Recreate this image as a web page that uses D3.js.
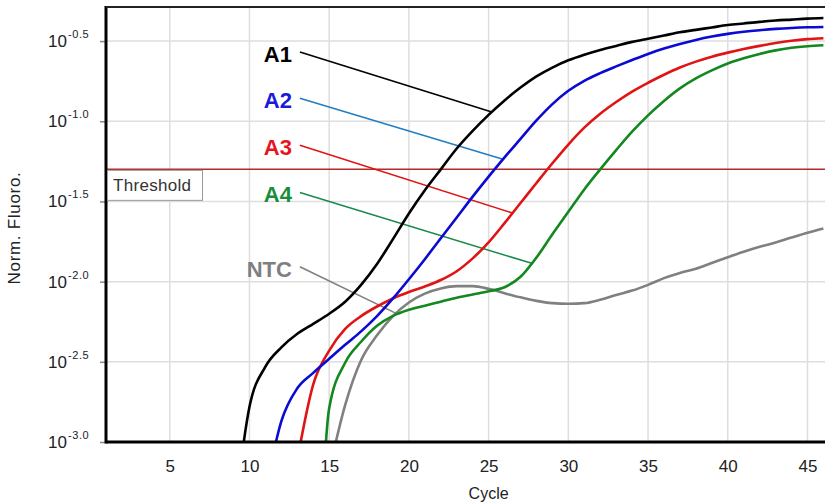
<!DOCTYPE html>
<html>
<head>
<meta charset="utf-8">
<script src="https://cdn.jsdelivr.net/npm/d3@7"></script>
<style>
  body { margin: 0; background: #fff; }
  svg { display: block; font-family: "Liberation Sans", Arial, sans-serif; }
</style>
</head>
<body>
<div id="chart"></div>
<script>
// ---- data (y values are log10 of normalized fluorescence) ----
const xTicks = [5, 10, 15, 20, 25, 30, 35, 40, 45];
const yTicks = [-3.0, -2.5, -2.0, -1.5, -1.0, -0.5];
const yTickLabels = ["-3.0", "-2.5", "-2.0", "-1.5", "-1.0", "-0.5"];

const seriesNames = ["A1", "A2", "A3", "A4", "NTC"];
const seriesStart = [9, 11, 13, 14, 15];   // first cycle of each series
const A1 = [-3.50, -2.78, -2.53, -2.41, -2.325, -2.263, -2.2, -2.125, -2.02, -1.89, -1.735, -1.575, -1.43,
            -1.30, -1.17, -1.06, -0.96, -0.87, -0.79, -0.72, -0.665, -0.62, -0.585, -0.555, -0.53, -0.505,
            -0.485, -0.465, -0.445, -0.43, -0.415, -0.40, -0.39, -0.38, -0.372, -0.366, -0.36, -0.356];
const A2 = [-3.31, -2.87, -2.665, -2.569, -2.481, -2.394, -2.31, -2.215, -2.105, -1.985, -1.86, -1.73, -1.60,
            -1.47, -1.345, -1.225, -1.11, -0.995, -0.893, -0.81, -0.748, -0.70, -0.658, -0.618, -0.58, -0.547,
            -0.518, -0.493, -0.472, -0.455, -0.442, -0.432, -0.424, -0.418, -0.414, -0.412];
const A3 = [-3.11, -2.64, -2.43, -2.295, -2.215, -2.155, -2.105, -2.065, -2.03, -1.99, -1.935, -1.855, -1.755,
            -1.635, -1.51, -1.385, -1.262, -1.145, -1.04, -0.953, -0.88, -0.815, -0.76, -0.71, -0.665, -0.628,
            -0.597, -0.572, -0.55, -0.53, -0.512, -0.498, -0.488, -0.482];
const A4 = [-5.00, -2.79, -2.506, -2.375, -2.275, -2.213, -2.175, -2.15, -2.125, -2.10, -2.08, -2.06, -2.035,
            -1.97, -1.85, -1.705, -1.565, -1.425, -1.30, -1.18, -1.065, -0.963, -0.873, -0.795, -0.733, -0.683,
            -0.64, -0.607, -0.58, -0.558, -0.542, -0.532, -0.526];
const NTC = [-3.18, -2.77, -2.49, -2.335, -2.215, -2.13, -2.075, -2.043, -2.028, -2.028, -2.045, -2.072, -2.098,
             -2.12, -2.134, -2.138, -2.134, -2.113, -2.083, -2.056, -2.02, -1.978, -1.946, -1.92, -1.884, -1.848,
             -1.814, -1.783, -1.756, -1.725, -1.695, -1.668];
const seriesValues = [A1, A2, A3, A4, NTC];
const threshold = -1.3;

// where each leader line touches its curve (cycle)
const leaderEnd = [25.2, 25.9, 26.5, 27.7, 19.2];

// ---- styles / layout ----
const curveColors = ["#000000", "#0a0ad2", "#e01414", "#12881e", "#808080"];
const labelColors = ["#000000", "#1a1ad8", "#e8141e", "#1a8c3c", "#7f7f7f"];
const leaderColors = ["#000000", "#1f7fc0", "#e01414", "#1a8a4a", "#808080"];
const labelCycle = 12.66;
const labelY = [-0.631, -0.919, -1.2125, -1.506, -1.969];

const W = 825, H = 503;
const margin = {top: 7, right: 0, bottom: 61, left: 106};

const svg = d3.select("#chart").append("svg")
  .attr("width", W).attr("height", H);

const x = d3.scaleLinear().domain([1, 46.1]).range([margin.left, W - margin.right]);
const y = d3.scaleLinear().domain([-3.0, -0.2875]).range([H - margin.bottom, margin.top]);

const x0 = margin.left, x1 = W - margin.right, y0 = H - margin.bottom, y1 = margin.top;

svg.append("defs").append("clipPath").attr("id", "plot")
  .append("rect").attr("x", x0).attr("y", y1).attr("width", x1 - x0).attr("height", y0 - y1);

// grid
svg.append("g").selectAll("line").data(xTicks).join("line")
  .attr("x1", d => x(d)).attr("x2", d => x(d)).attr("y1", y1).attr("y2", y0)
  .attr("stroke", "#dedede").attr("stroke-width", 1.5);
svg.append("g").selectAll("line").data(yTicks.slice(1)).join("line")
  .attr("x1", x0).attr("x2", x1).attr("y1", d => y(d)).attr("y2", d => y(d))
  .attr("stroke", "#dedede").attr("stroke-width", 1.5);

// x axis labels
const xAxis = svg.append("g").attr("transform", `translate(0,${y0})`)
  .call(d3.axisBottom(x).tickValues(xTicks).tickSize(0).tickPadding(18));
xAxis.select(".domain").remove();
xAxis.selectAll("text").attr("font-size", 17).attr("fill", "#222")
  .attr("font-family", "Liberation Sans, Arial, sans-serif");

// y axis ticks
const yAxis = svg.append("g").attr("transform", `translate(${x0},0)`)
  .call(d3.axisLeft(y).tickValues(yTicks).tickSize(6).tickFormat(""));
yAxis.select(".domain").remove();
yAxis.selectAll("line").attr("stroke", "#888").attr("stroke-width", 1.5);

const yl = svg.append("g").selectAll("text").data(yTicks).join("text")
  .attr("x", 48).attr("y", d => y(d) + 6)
  .attr("font-size", 17).attr("fill", "#222");
yl.append("tspan").text("10");
yl.append("tspan").attr("dx", 1).attr("dy", -9).attr("font-size", 11)
  .attr("letter-spacing", 0.6)
  .text((d, i) => yTickLabels[i]);

// axis titles
svg.append("text").attr("transform", `translate(20,228) rotate(-90)`)
  .attr("text-anchor", "middle").attr("font-size", 17).attr("letter-spacing", 0.7)
  .attr("fill", "#222")
  .text("Norm. Fluoro.");
svg.append("text").attr("x", x(25)).attr("y", 499)
  .attr("text-anchor", "middle").attr("font-size", 16).attr("fill", "#222")
  .text("Cycle");

// threshold line
svg.append("line")
  .attr("x1", x0).attr("x2", x1).attr("y1", y(threshold)).attr("y2", y(threshold))
  .attr("stroke", "#b22a2a").attr("stroke-width", 1.5);

// series points
const seriesPts = seriesValues.map((vals, i) =>
  vals.map((v, j) => ({c: seriesStart[i] + j, v: v})));

function valueAt(pts, c) {
  for (let k = 0; k < pts.length - 1; k++) {
    if (c >= pts[k].c && c <= pts[k + 1].c) {
      const t = (c - pts[k].c) / (pts[k + 1].c - pts[k].c);
      return pts[k].v + t * (pts[k + 1].v - pts[k].v);
    }
  }
  return pts[pts.length - 1].v;
}

// leader lines
svg.append("g").selectAll("line").data(seriesNames).join("line")
  .attr("x1", x(labelCycle) + 8)
  .attr("y1", (d, i) => y(labelY[i]) - 10)
  .attr("x2", (d, i) => x(leaderEnd[i]))
  .attr("y2", (d, i) => y(valueAt(seriesPts[i], leaderEnd[i])))
  .attr("stroke", (d, i) => leaderColors[i]).attr("stroke-width", 1.6);

// curves (NTC drawn first, A1 on top)
const line = d3.line().x(d => x(d.c)).y(d => y(d.v)).curve(d3.curveMonotoneX);
svg.append("g").attr("clip-path", "url(#plot)")
  .selectAll("path").data(seriesPts.map((p, i) => ({p, i})).reverse()).join("path")
  .attr("d", d => line(d.p))
  .attr("fill", "none")
  .attr("stroke", d => curveColors[d.i])
  .attr("stroke-width", 2.6)
  .attr("stroke-linejoin", "round");

// series labels
svg.append("g").selectAll("text").data(seriesNames).join("text")
  .attr("x", x(labelCycle)).attr("y", (d, i) => y(labelY[i]))
  .attr("text-anchor", "end").attr("font-size", 22).attr("font-weight", "bold")
  .attr("fill", (d, i) => labelColors[i])
  .text(d => d);

// frame
svg.append("line").attr("x1", x0).attr("x2", x0).attr("y1", y1 - 1).attr("y2", y0 + 1.5)
  .attr("stroke", "#000").attr("stroke-width", 3);
svg.append("line").attr("x1", x0).attr("x2", x1).attr("y1", y0).attr("y2", y0)
  .attr("stroke", "#000").attr("stroke-width", 3);
svg.append("line").attr("x1", x0).attr("x2", x1).attr("y1", y1).attr("y2", y1)
  .attr("stroke", "#222").attr("stroke-width", 2);

// threshold tag
const ty = y(threshold);
svg.append("rect").attr("x", x0 + 1.5).attr("y", ty + 1).attr("width", 95).attr("height", 30)
  .attr("fill", "#fff").attr("stroke", "#9a9a9a").attr("stroke-width", 1);
svg.append("text").attr("x", x0 + 7).attr("y", ty + 22)
  .attr("font-size", 17).attr("fill", "#333").attr("letter-spacing", 0.3)
  .text("Threshold");
</script>
</body>
</html>
